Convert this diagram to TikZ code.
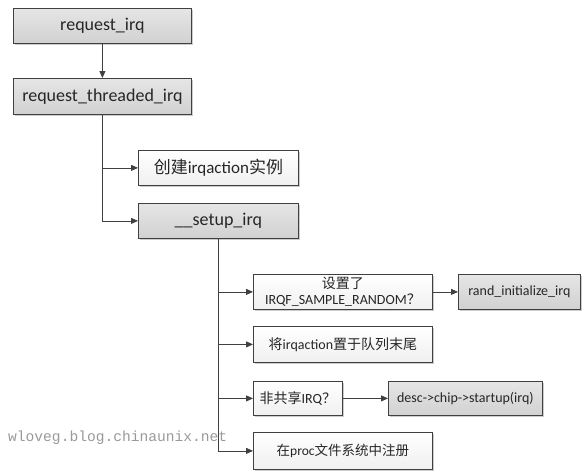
\documentclass[tikz,border=0pt]{standalone}
\usepackage{fontspec}
\setmainfont{Carlito}
\newfontfamily\cjk{Noto Sans CJK SC}
\newfontfamily\wm{Liberation Mono}
\usetikzlibrary{arrows.meta,shadows}
\definecolor{bordc}{HTML}{404040}
\tikzset{
  box/.style={draw=bordc, line width=0.8pt, anchor=north west, inner sep=0pt, align=center, text=black!85, font=\fontsize{14}{15}\selectfont,
    drop shadow={shadow xshift=1.2pt, shadow yshift=-1.2pt, fill=black, opacity=0.2}},
  big/.style={font=\fontsize{18}{20}\selectfont},
  graybox/.style={box, top color=gray!20, bottom color=gray!36},
  whitebox/.style={box, top color=white, bottom color=gray!12},
  conn/.style={draw=bordc, line width=0.8pt, -{Triangle[length=7pt,width=6pt]}},
}
\begin{document}
\begin{tikzpicture}[x=1pt,y=-1pt]
\useasboundingbox (0,0) rectangle (587,471);
\node[graybox, big, minimum width=178pt, minimum height=35pt] (ri) at (13,8) {request\_irq};
\node[graybox, big, minimum width=178pt, minimum height=36pt] (rt) at (13,78) {request\_threaded\_irq};
\node[whitebox, minimum width=160pt, minimum height=35pt, font=\fontsize{17}{19}\selectfont] (cr) at (138,150) {{\cjk 创建}irqaction{\cjk 实例}};
\node[graybox, big, minimum width=160pt, minimum height=35pt] (su) at (138,203) {\_\_setup\_irq};
\node[whitebox, minimum width=179pt, minimum height=35pt, font=\fontsize{14}{15.5}\selectfont] (sr) at (253,274) {{\cjk 设置了}\\IRQF\_SAMPLE\_RANDOM{\cjk ？}};
\node[graybox, minimum width=122pt, minimum height=35pt] (rd) at (458,274) {rand\_initialize\_irq};
\node[whitebox, minimum width=179pt, minimum height=36pt] (q) at (253,326) {{\cjk 将}irqaction{\cjk 置于队列末尾}};
\node[whitebox, minimum width=89pt, minimum height=34pt] (ns) at (253,381) {{\cjk 非共享}IRQ{\cjk ？}};
\node[graybox, minimum width=154pt, minimum height=34pt] (ds) at (388,381) {desc->chip->startup(irq)};
\node[whitebox, minimum width=179pt, minimum height=37pt, font=\fontsize{13.5}{15}\selectfont] (pr) at (253,432) {{\cjk 在}proc{\cjk 文件系统中注册}};
\node[anchor=west, text=gray!80, font=\wm\fontsize{14.6}{15}\selectfont, inner sep=0pt] (wmk) at (8,438) {wloveg.blog.chinaunix.net};
\draw[conn] (ri.south) -- (rt.north);
\draw[conn] (rt.south) |- (cr.west);
\draw[conn] (rt.south) |- (su.west);
\draw[conn] (su.south) |- (sr.west);
\draw[conn] (su.south) |- (q.west);
\draw[conn] (su.south) |- (ns.west);
\draw[conn] (su.south) |- (pr.west);
\draw[conn] (sr.east) -- (rd.west);
\draw[conn] (ns.east) -- (ds.west);
\end{tikzpicture}
\end{document}
